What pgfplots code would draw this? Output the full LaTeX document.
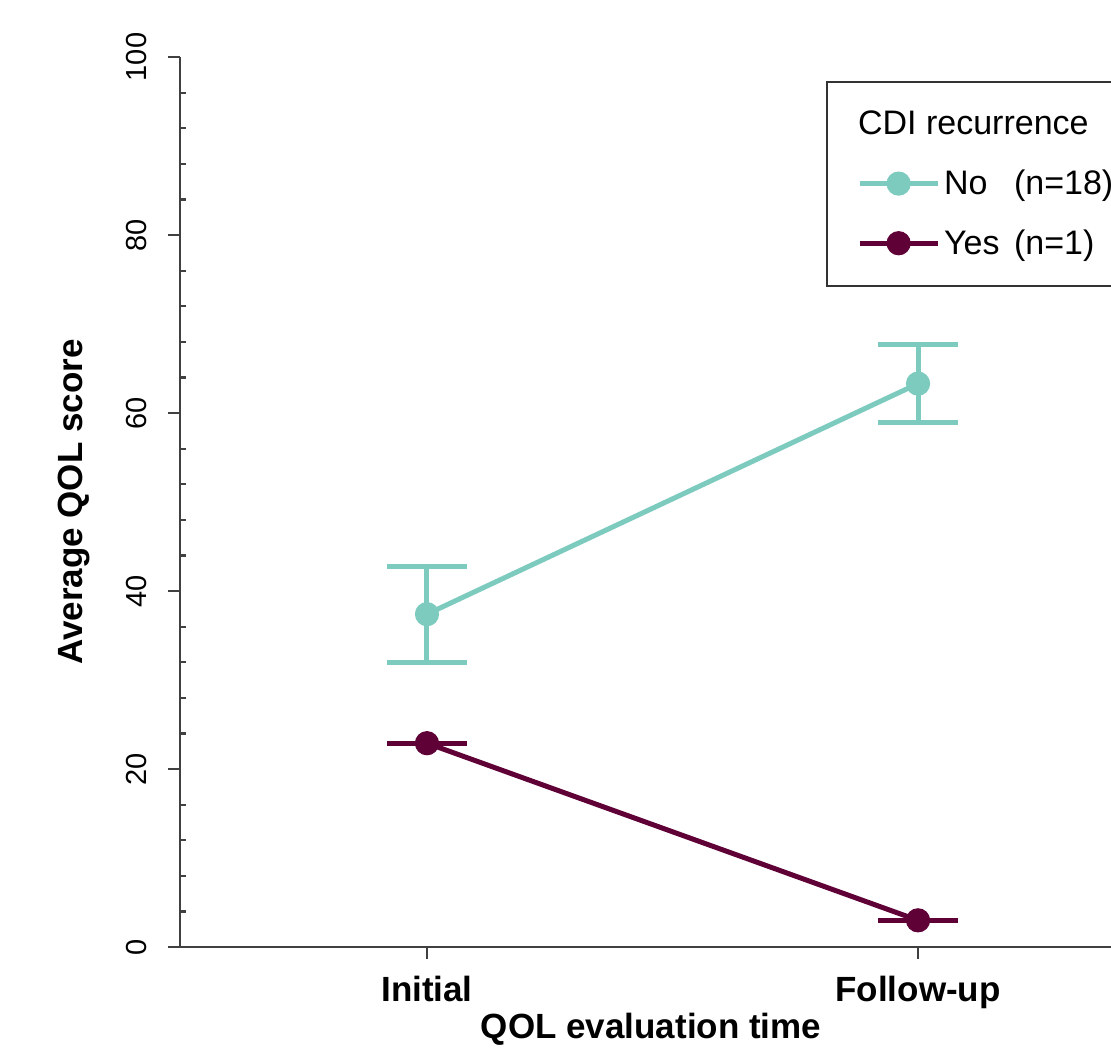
\documentclass[border=0pt]{standalone}
\usepackage{fontspec}
\setmainfont{Liberation Sans}
\usepackage{pgfplots}
\pgfplotsset{compat=1.18}
\definecolor{colNo}{HTML}{7CCBBE}
\definecolor{colYes}{HTML}{5F0037}

\begin{document}
\begin{tikzpicture}
\begin{axis}[
    scale only axis,
    width=465.5pt, height=445pt,
    xmin=-0.503, xmax=1.393,
    ymin=0, ymax=100,
    clip=false,
    axis x line*=bottom,
    axis y line*=left,
    axis line style={line width=1.1pt, black!75},
    every tick/.style={line width=1.1pt, black!75},
    xtick={0,1},
    xticklabels={Initial,Follow-up},
    ytick={0,20,...,100},
    minor y tick num=4,
    tick align=outside,
    major tick length=6pt,
    minor tick length=-3pt,
    /pgf/number format/assume math mode=true,
    xticklabel style={font=\fontsize{17.5}{20}\selectfont\bfseries, yshift=-21pt, anchor=base, inner sep=0pt},
    yticklabel style={font=\fontsize{14.5}{17}\selectfont, xshift=-10.5pt, rotate=90, anchor=base, inner sep=0pt},
    xlabel={QOL evaluation time},
    ylabel={Average QOL score},
    every axis x label/.style={at={(axis description cs:0.506,0)}, yshift=-45.5pt, anchor=base,
        font=\fontsize{17.5}{20}\selectfont\bfseries},
    every axis y label/.style={at={(axis description cs:0,0.5)}, xshift=-48.5pt, rotate=90, anchor=base,
        font=\fontsize{17.5}{20}\selectfont\bfseries},
    legend cell align=left,
    legend image code/.code={
        \draw[mark repeat=2, mark phase=2, #1] plot coordinates {(0pt,0pt) (19.5pt,0pt) (39pt,0pt)};
    },
    legend style={
        at={(axis description cs:0.694,0.973)}, anchor=north west,
        draw=black!80, line width=1pt,
        inner xsep=15pt, inner ysep=12.5pt,
        row sep=12pt,
        font=\fontsize{17}{20}\selectfont,
    },
]
\coordinate (bl) at (rel axis cs:0,0);
\coordinate (tr) at (rel axis cs:1,1);

\addlegendimage{empty legend}
\addlegendentry{\hspace*{-43pt}CDI recurrence}

\addplot[colNo, line width=2.5pt, mark=*, mark size=5.8pt,
    mark options={line width=0.5pt},
    error bars/.cd, y dir=both, y explicit,
    error bar style={line width=2.5pt, colNo},
    error mark options={rotate=90, line width=2.5pt, mark size=20pt, colNo}]
coordinates {
    (0,37.4) +- (0,5.4)
    (1,63.3) +- (0,4.4)
};
\addlegendentry{\makebox[35pt][l]{No}(n=18)}

\addplot[colYes, line width=2.5pt, mark=*, mark size=5.8pt,
    mark options={line width=0.5pt},
    error bars/.cd, y dir=both, y explicit,
    error bar style={line width=2.5pt, colYes},
    error mark options={rotate=90, line width=2.5pt, mark size=20pt, colYes}]
coordinates {
    (0,22.9) +- (0,0)
    (1,3.0) +- (0,0)
};
\addlegendentry{\makebox[35pt][l]{Yes}(n=1)}
\end{axis}
\pgfresetboundingbox
\path ([shift={(-90pt,-55pt)}]bl) rectangle ([shift={(0pt,28.5pt)}]tr);
\end{tikzpicture}
\end{document}
